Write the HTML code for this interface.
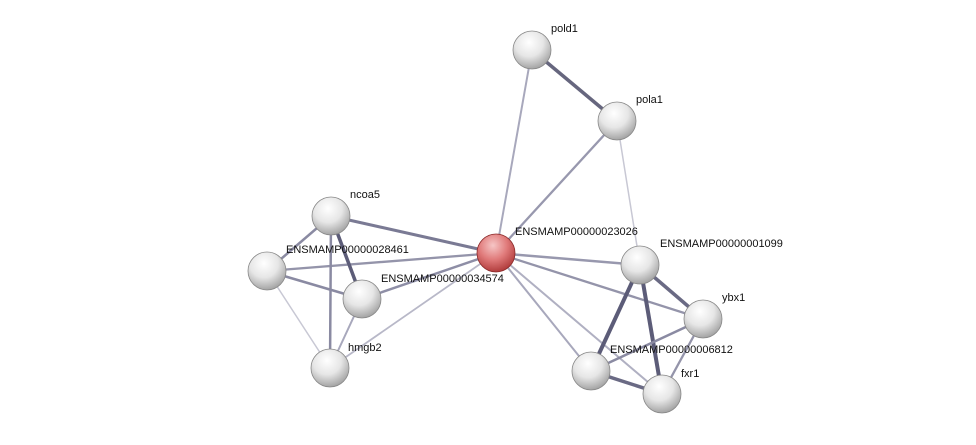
<!DOCTYPE html>
<html><head><style>
html,body{margin:0;padding:0;background:#fff;}
svg text{font-family:"Liberation Sans",Arial,sans-serif;font-size:11px;fill:#111;}
</style></head><body>
<svg width="976" height="440" viewBox="0 0 976 440" xmlns="http://www.w3.org/2000/svg">
<defs>
<radialGradient id="g" cx="0.42" cy="0.3" r="0.75">
<stop offset="0" stop-color="#ffffff"/><stop offset="0.5" stop-color="#e6e6e6"/><stop offset="1" stop-color="#9a9a9a"/>
</radialGradient>
<radialGradient id="r" cx="0.42" cy="0.3" r="0.75">
<stop offset="0" stop-color="#f6c6c6"/><stop offset="0.5" stop-color="#e07a7a"/><stop offset="1" stop-color="#a33"/>
</radialGradient>
</defs>
<g stroke-linecap="round">
<line x1="496" y1="253" x2="532" y2="50" stroke="#a8a8bc" stroke-width="2"/>
<line x1="532" y1="50" x2="617" y2="121" stroke="#66667e" stroke-width="3.5"/>
<line x1="496" y1="253" x2="617" y2="121" stroke="#9898ae" stroke-width="2.3"/>
<line x1="617" y1="121" x2="640" y2="265" stroke="#c8c8d4" stroke-width="1.5"/>
<line x1="496" y1="253" x2="331" y2="216" stroke="#7a7a94" stroke-width="3"/>
<line x1="496" y1="253" x2="267" y2="271" stroke="#9494aa" stroke-width="2.3"/>
<line x1="496" y1="253" x2="362" y2="299" stroke="#8e8ea6" stroke-width="2.5"/>
<line x1="496" y1="253" x2="330" y2="368" stroke="#b8b8c8" stroke-width="1.8"/>
<line x1="496" y1="253" x2="640" y2="265" stroke="#9898ae" stroke-width="2.5"/>
<line x1="496" y1="253" x2="703" y2="319" stroke="#9494aa" stroke-width="2.3"/>
<line x1="496" y1="253" x2="591" y2="371" stroke="#a8a8bc" stroke-width="2"/>
<line x1="496" y1="253" x2="662" y2="394" stroke="#b0b0c2" stroke-width="2"/>
<line x1="331" y1="216" x2="267" y2="271" stroke="#8a8aa2" stroke-width="2.5"/>
<line x1="331" y1="216" x2="362" y2="299" stroke="#5c5c78" stroke-width="3.5"/>
<line x1="331" y1="216" x2="330" y2="368" stroke="#8a8aa2" stroke-width="2.5"/>
<line x1="267" y1="271" x2="362" y2="299" stroke="#8a8aa2" stroke-width="2.5"/>
<line x1="267" y1="271" x2="330" y2="368" stroke="#c8c8d4" stroke-width="1.5"/>
<line x1="362" y1="299" x2="330" y2="368" stroke="#a8a8bc" stroke-width="2"/>
<line x1="640" y1="265" x2="703" y2="319" stroke="#6a6a84" stroke-width="3.5"/>
<line x1="640" y1="265" x2="591" y2="371" stroke="#5c5c78" stroke-width="4"/>
<line x1="640" y1="265" x2="662" y2="394" stroke="#5c5c78" stroke-width="4"/>
<line x1="703" y1="319" x2="591" y2="371" stroke="#8a8aa2" stroke-width="2.5"/>
<line x1="703" y1="319" x2="662" y2="394" stroke="#9494aa" stroke-width="2.3"/>
<line x1="591" y1="371" x2="662" y2="394" stroke="#6a6a84" stroke-width="3.5"/>
</g>
<g stroke="#888" stroke-width="0.8">
<circle cx="532" cy="50" r="19" fill="url(#g)"/>
<circle cx="617" cy="121" r="19" fill="url(#g)"/>
<circle cx="331" cy="216" r="19" fill="url(#g)"/>
<circle cx="267" cy="271" r="19" fill="url(#g)"/>
<circle cx="362" cy="299" r="19" fill="url(#g)"/>
<circle cx="330" cy="368" r="19" fill="url(#g)"/>
<circle cx="640" cy="265" r="19" fill="url(#g)"/>
<circle cx="703" cy="319" r="19" fill="url(#g)"/>
<circle cx="591" cy="371" r="19" fill="url(#g)"/>
<circle cx="662" cy="394" r="19" fill="url(#g)"/>
<circle cx="496" cy="253" r="19" fill="url(#r)" stroke="#8a2a2a"/>
</g>
<text x="551" y="32">pold1</text>
<text x="636" y="103">pola1</text>
<text x="350" y="198">ncoa5</text>
<text x="286" y="253">ENSMAMP00000028461</text>
<text x="381" y="282">ENSMAMP00000034574</text>
<text x="348" y="351">hmgb2</text>
<text x="515" y="235">ENSMAMP00000023026</text>
<text x="660" y="247">ENSMAMP00000001099</text>
<text x="722" y="301">ybx1</text>
<text x="610" y="353">ENSMAMP00000006812</text>
<text x="681" y="377">fxr1</text>
</svg>
</body></html>
